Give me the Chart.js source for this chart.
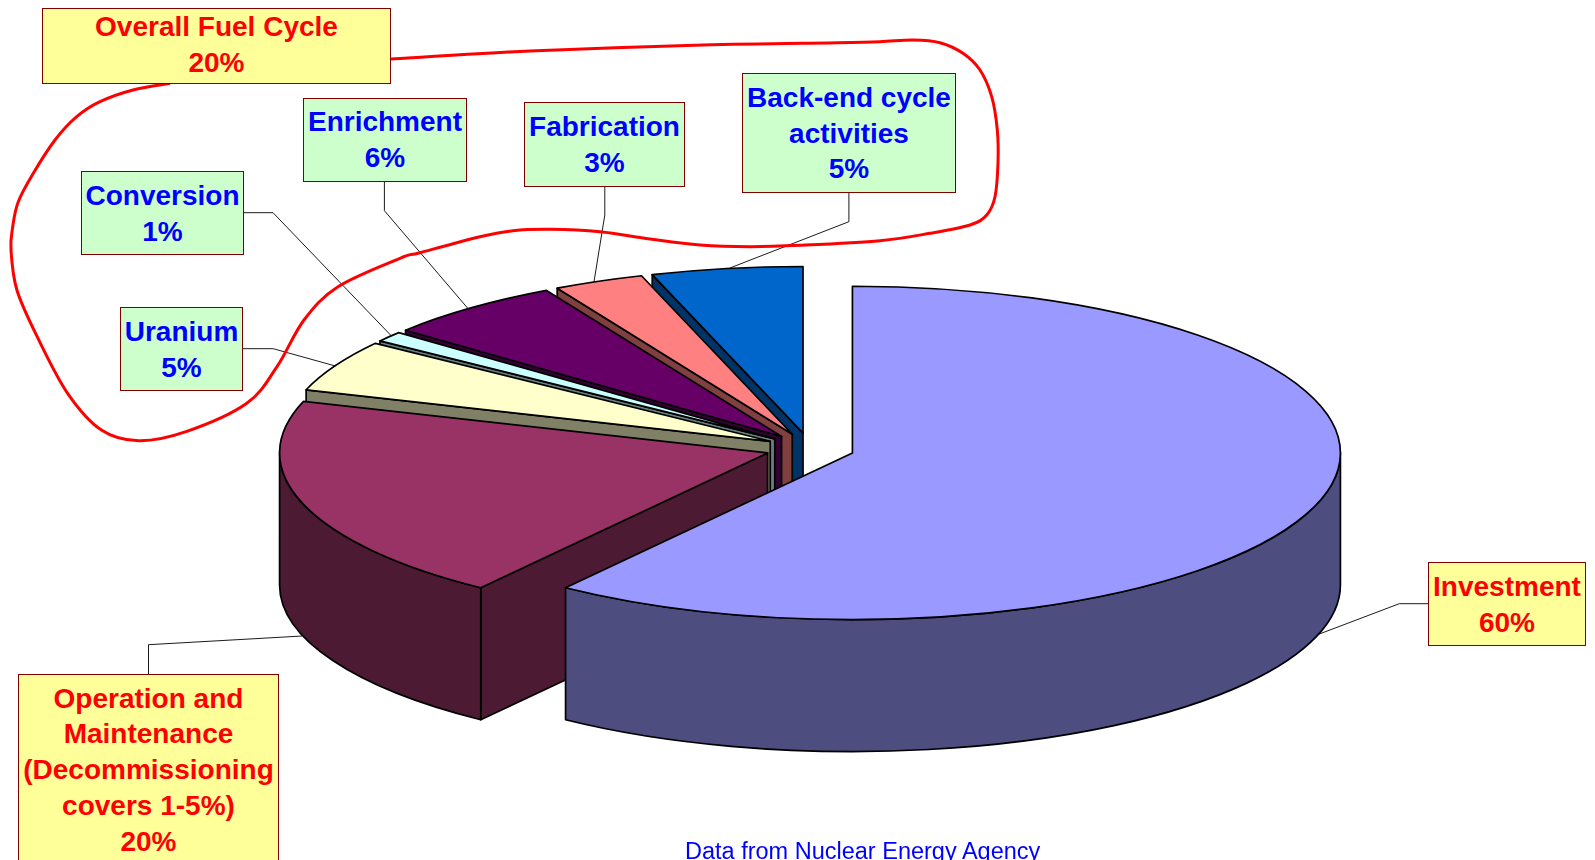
<!DOCTYPE html>
<html>
<head>
<meta charset="utf-8">
<title>Nuclear generating cost breakdown</title>
<script src="https://cdn.jsdelivr.net/npm/chart.js@4/dist/chart.umd.min.js"></script>
<style>
  html, body { margin: 0; padding: 0; background: #fff; overflow: hidden; }
  #stage { position: relative; width: 1595px; height: 860px; overflow: hidden; }
  #pie { position: absolute; left: 0; top: 0; }
  .box {
    position: absolute; box-sizing: border-box; border: 1px solid #800000;
    font: bold 28px/35.7px "Liberation Sans", Arial, sans-serif; text-align: center;
    white-space: pre; display: flex; align-items: center; justify-content: center;
  }
  .total { background: #ffff99; color: #ff0000; }
  .fuel { background: #ccffcc; color: #0000ff; }
  .source {
    position: absolute; left: 685px; top: 838px; color: #0000ff; white-space: pre;
    font: 23.5px/27px "Liberation Sans", Arial, sans-serif;
  }
</style>
</head>
<body>
<div id="stage">
  <canvas id="pie" width="1595" height="860"></canvas>
  <div class="source">Data from Nuclear Energy Agency</div>
</div>
<script>
const categories = ['Investment', 'Operation and Maintenance', 'Uranium', 'Conversion', 'Enrichment', 'Fabrication', 'Back-end cycle activities'];
const shares = [60, 20, 5, 1, 6, 3, 5];
const topColors = ['#9999FF', '#993366', '#FFFFCC', '#CCFFFF', '#660066', '#FF8080', '#0066CC'];
const wallColors = ['#4D4D80', '#4D1A33', '#808066', '#668080', '#330033', '#804040', '#003366'];

const SQUASH = 0.3415;
const DEPTH = 132;
const EXPLODE = 44.6;

// label boxes: left, top, right, bottom, text nudge
const boxes = [
  { text: 'Overall Fuel Cycle\n20%', cls: 'total', rect: [42, 8, 391, 84], nudge: -1 },
  { text: 'Enrichment\n6%', cls: 'fuel', rect: [303, 98, 467, 182], nudge: 0 },
  { text: 'Fabrication\n3%', cls: 'fuel', rect: [524, 102, 685, 187], nudge: 0 },
  { text: 'Back-end cycle\nactivities\n5%', cls: 'fuel', rect: [742, 73, 956, 193], nudge: 0.5 },
  { text: 'Conversion\n1%', cls: 'fuel', rect: [81, 171, 244, 255], nudge: 0.5 },
  { text: 'Uranium\n5%', cls: 'fuel', rect: [120, 307, 243, 391], nudge: 1 },
  { text: 'Investment\n60%', cls: 'total', rect: [1428, 562, 1586, 646], nudge: 0.5 },
  { text: 'Operation and\nMaintenance\n(Decommissioning\ncovers 1-5%)\n20%', cls: 'total', rect: [18, 674, 279, 866], nudge: 0 }
];

const leaders = [
  [[244, 212.7], [273, 212.7], [390.5, 335]],
  [[384.4, 182], [384.4, 210.7], [467.5, 308]],
  [[604.8, 187], [604.8, 215], [594, 281.7]],
  [[848.9, 193], [848.9, 221.7], [729.9, 268]],
  [[243, 348.7], [273.2, 348.7], [335.4, 366]],
  [[148.5, 674], [148.5, 644.7], [302.3, 636]],
  [[1428, 603.7], [1399.3, 603.7], [1316.7, 635]]
];

// hand drawn loop round the fuel cycle slices
const loop = [
  [391, 59], [530, 51], [702.8, 45], [838, 42.7], [880, 41.7], [913, 40], [940, 42.7], [963, 53.3], [980, 70],
  [991.7, 96.7], [997.3, 130], [998, 163], [995, 196.7], [986.7, 215], [970, 225], [930, 233.3], [880, 240.7],
  [800, 245.3], [750, 246.7], [700, 245], [650, 239], [600, 231.7], [550, 229.3], [513, 230.7], [480, 236.7],
  [420, 252.7], [400, 258.3], [338, 286.7], [304, 320], [277, 366.7], [246.8, 403.3], [186, 431.7],
  [138.6, 440.7], [101.4, 430], [67.6, 393.3], [37.2, 336.7], [16.9, 290], [11, 250], [12.7, 226.7],
  [18.3, 201.7], [33.3, 173.3], [55, 140], [76.7, 116.7], [100, 101.7], [133, 90], [170, 83.3]
];

function facePath(ctx, x, y, r, a) {
  ctx.beginPath();
  ctx.moveTo(x, y);
  ctx.lineTo(x + r * Math.cos(a), y + r * SQUASH * Math.sin(a));
  ctx.lineTo(x + r * Math.cos(a), y + r * SQUASH * Math.sin(a) + DEPTH);
  ctx.lineTo(x, y + DEPTH);
  ctx.closePath();
}

function paintSlice(ctx, arc, wall) {
  const mid = (arc.startAngle + arc.endAngle) / 2;
  const dx = EXPLODE * Math.cos(mid);
  const dy = EXPLODE * Math.sin(mid) * SQUASH;
  const x = arc.x + dx;
  const y = arc.y + dy;
  const r = arc.outerRadius;

  ctx.save();
  ctx.lineWidth = 1.7;
  ctx.lineJoin = 'round';
  ctx.strokeStyle = '#000';
  ctx.fillStyle = wall;

  // cut faces, only where they turn towards the viewer
  if (Math.cos(arc.startAngle) < -1e-6) {
    facePath(ctx, x, y, r, arc.startAngle);
    ctx.fill();
    ctx.stroke();
  }
  if (Math.cos(arc.endAngle) > 1e-6) {
    facePath(ctx, x, y, r, arc.endAngle);
    ctx.fill();
    ctx.stroke();
  }

  // only the front half of the rim shows
  const a1 = Math.max(arc.startAngle, 0);
  const a2 = Math.min(arc.endAngle, Math.PI);
  if (a2 > a1) {
    ctx.beginPath();
    ctx.ellipse(x, y, r, r * SQUASH, 0, a1, a2);
    ctx.ellipse(x, y + DEPTH, r, r * SQUASH, 0, a2, a1, true);
    ctx.closePath();
    ctx.fill();
    ctx.stroke();
  }

  // top face comes from the arc element itself, squashed into an ellipse
  ctx.save();
  ctx.translate(dx, arc.y + dy);
  ctx.scale(1, SQUASH);
  ctx.translate(0, -arc.y);
  arc.draw(ctx);
  ctx.restore();

  ctx.beginPath();
  ctx.moveTo(x, y);
  ctx.ellipse(x, y, r, r * SQUASH, 0, arc.startAngle, arc.endAngle);
  ctx.closePath();
  ctx.stroke();
  ctx.restore();
}

function drawLoop(ctx) {
  ctx.save();
  ctx.strokeStyle = '#ff0000';
  ctx.lineWidth = 3;
  ctx.lineJoin = 'round';
  ctx.beginPath();
  ctx.moveTo(loop[0][0], loop[0][1]);
  for (let i = 0; i < loop.length - 1; i++) {
    const p0 = loop[Math.max(i - 1, 0)];
    const p1 = loop[i];
    const p2 = loop[i + 1];
    const p3 = loop[Math.min(i + 2, loop.length - 1)];
    ctx.bezierCurveTo(
      p1[0] + (p2[0] - p0[0]) / 6, p1[1] + (p2[1] - p0[1]) / 6,
      p2[0] - (p3[0] - p1[0]) / 6, p2[1] - (p3[1] - p1[1]) / 6,
      p2[0], p2[1]
    );
  }
  ctx.stroke();
  ctx.restore();
}

const pie3d = {
  id: 'pie3d',
  beforeDatasetDraw(chart, args) {
    const arcs = chart.getDatasetMeta(args.index).data;
    // back slices first, Investment goes on last
    for (let i = arcs.length - 1; i >= 0; i--) {
      paintSlice(chart.ctx, arcs[i], wallColors[i]);
    }
    return false;
  },
  afterDraw(chart) {
    const ctx = chart.ctx;
    ctx.save();
    ctx.strokeStyle = '#000';
    ctx.lineWidth = 0.9;
    leaders.forEach((pts) => {
      ctx.beginPath();
      pts.forEach((p, i) => (i ? ctx.lineTo(p[0], p[1]) : ctx.moveTo(p[0], p[1])));
      ctx.stroke();
    });
    ctx.restore();
    drawLoop(ctx);
  }
};

new Chart(document.getElementById('pie'), {
  type: 'pie',
  data: {
    labels: categories,
    datasets: [{
      data: shares,
      backgroundColor: topColors,
      borderWidth: 0,
      hoverOffset: 0
    }]
  },
  options: {
    responsive: false,
    animation: false,
    radius: 488,
    layout: { padding: { left: 25, top: 36.4 } },
    events: [],
    plugins: { legend: { display: false }, tooltip: { enabled: false } }
  },
  plugins: [pie3d]
});

const stage = document.getElementById('stage');
boxes.forEach((b) => {
  const el = document.createElement('div');
  el.className = 'box ' + b.cls;
  el.textContent = b.text;
  el.style.left = b.rect[0] + 'px';
  el.style.top = b.rect[1] + 'px';
  el.style.width = (b.rect[2] - b.rect[0]) + 'px';
  el.style.height = (b.rect[3] - b.rect[1]) + 'px';
  if (b.nudge > 0) el.style.paddingTop = 2 * b.nudge + 'px';
  if (b.nudge < 0) el.style.paddingBottom = -2 * b.nudge + 'px';
  stage.appendChild(el);
});
</script>
</body>
</html>
